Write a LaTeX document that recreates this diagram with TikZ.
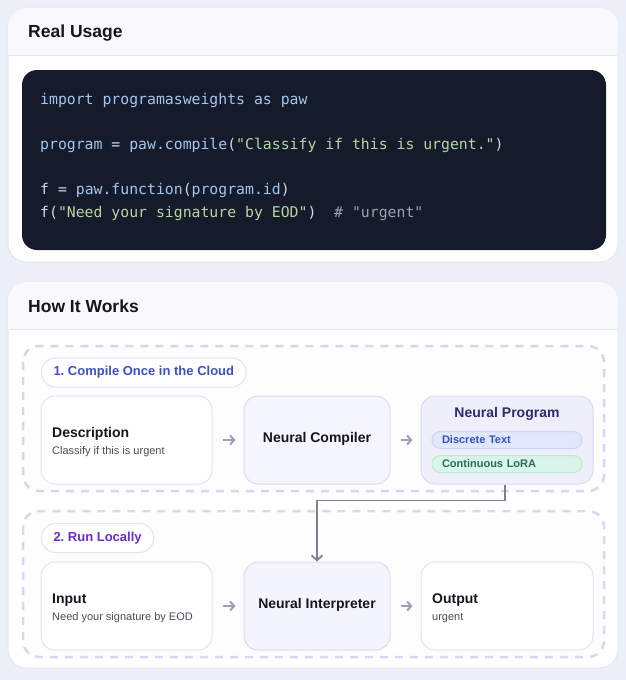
\documentclass[tikz,border=0pt]{standalone}
\usepackage{fontspec}
\setmainfont{Liberation Sans}
\setsansfont{Liberation Sans}
\setmonofont{DejaVu Sans Mono}
\usetikzlibrary{arrows.meta,calc}
\frenchspacing
\definecolor{pagebg}{HTML}{EEF0F9}
\definecolor{cardbd}{HTML}{E3E5F3}
\definecolor{headbg}{HTML}{F8F8FD}
\definecolor{codebg}{HTML}{161B2B}
\definecolor{cblue}{HTML}{A3C6EE}
\definecolor{cpunc}{HTML}{D4DAE4}
\definecolor{cstr}{HTML}{B6D6A2}
\definecolor{ccom}{HTML}{9AA2B2}
\definecolor{dashA}{HTML}{D3D7F0}
\definecolor{dashB}{HTML}{DCD6F1}
\definecolor{boxbd}{HTML}{E2E2F4}
\definecolor{lav}{HTML}{EFEFFC}
\definecolor{lavbd}{HTML}{D9D9F3}
\definecolor{titlec}{HTML}{15161C}
\definecolor{subc}{HTML}{4A4D58}
\definecolor{stepblue}{HTML}{3B52C4}
\definecolor{steppurple}{HTML}{6A2DC8}
\definecolor{progc}{HTML}{2B2B70}
\definecolor{dtfill}{HTML}{E1E8FB}
\definecolor{dtbd}{HTML}{C9D5F5}
\definecolor{dttext}{HTML}{3550C0}
\definecolor{lrfill}{HTML}{D8F5EA}
\definecolor{lrbd}{HTML}{BDE8D5}
\definecolor{lrtext}{HTML}{2E6A4E}
\definecolor{arrc}{HTML}{9CA1B0}
\definecolor{connc}{HTML}{7C8191}
\tikzset{
  card/.style={draw=cardbd, line width=1pt, fill=white, rounded corners=18pt},
  dashbox/.style={draw=#1, line width=2.5pt, dash pattern=on 8pt off 7pt, rounded corners=16pt, fill=white!60!pagebg!30},
  stepbox/.style={draw=boxbd, line width=1pt, fill=white, rounded corners=14pt, minimum width=#1, minimum height=88pt, inner sep=0pt},
  lavbox/.style={draw=lavbd, line width=1pt, fill=lav, rounded corners=14pt, minimum width=#1, minimum height=88pt, inner sep=0pt},
  pill/.style={draw=boxbd, line width=1pt, fill=white, rounded corners=14pt, minimum height=29pt, inner xsep=12pt, font=\bfseries\fontsize{13}{15}\selectfont},
  subpill/.style={draw=#1, line width=1pt, rounded corners=8.5pt, minimum width=150pt, minimum height=17pt, inner xsep=10pt, font=\bfseries\fontsize{11}{13}\selectfont, text width=130pt, align=left},
  ttl/.style={font=\bfseries\fontsize{14}{16}\selectfont, text=titlec, inner sep=0pt},
  sub/.style={font=\fontsize{11}{13}\selectfont, text=subc, inner sep=0pt},
  hdr/.style={font=\bfseries\fontsize{17.5}{20}\selectfont, text=titlec, inner sep=0pt, anchor=west},
  code/.style={font=\ttfamily\fontsize{14.8}{17}\selectfont, inner sep=0pt, anchor=base west},
  arr/.style={draw=arrc, line width=2pt, -{Straight Barb[length=4pt,width=9pt]}, shorten <=10pt, shorten >=8pt},
  conn/.style={draw=connc, line width=1.8pt, -{Straight Barb[length=5pt,width=11pt]}},
}
\begin{document}
\begin{tikzpicture}[x=1pt,y=-1pt]
\fill[pagebg] (0,0) rectangle (626,680);
\useasboundingbox (0,0) rectangle (626,680);
% ---------- card 1
\draw[card] (8,8) rectangle (618,262);
\begin{scope}
\clip[rounded corners=18pt] (8,8) rectangle (618,262);
\fill[headbg] (8,8) rectangle (618,55);
\end{scope}
\draw[cardbd, line width=0.8pt] (9,55.5) -- (617,55.5);
\node[hdr] (h1) at (28,33) {Real Usage};
\node[fill=codebg, rounded corners=15pt, minimum width=584pt, minimum height=180pt, inner sep=0pt] (codebox) at (314,160) {};
\node[code] (c1) at (40,104) {\textcolor{cblue}{import programasweights as paw}};
\node[code] (c2) at (40,149) {\textcolor{cblue}{program}\textcolor{cpunc}{\ =\ }\textcolor{cblue}{paw.compile}\textcolor{cpunc}{(}\textcolor{cstr}{"Classify if this is urgent."}\textcolor{cpunc}{)}};
\node[code] (c3) at (40,194) {\textcolor{cpunc}{f = }\textcolor{cblue}{paw.function}\textcolor{cpunc}{(}\textcolor{cblue}{program.id}\textcolor{cpunc}{)}};
\node[code] (c4) at (40,217) {\textcolor{cpunc}{f(}\textcolor{cstr}{"Need your signature by EOD"}\textcolor{cpunc}{)}\textcolor{ccom}{~~\# "urgent"}};
% ---------- card 2
\draw[card] (8,282) rectangle (618,668);
\begin{scope}
\clip[rounded corners=18pt] (8,282) rectangle (618,668);
\fill[headbg] (8,282) rectangle (618,329);
\end{scope}
\draw[cardbd, line width=0.8pt] (9,329.5) -- (617,329.5);
\node[hdr] (h2) at (28,306) {How It Works};
% stage 1
\draw[dashbox=dashA] (23,346) rectangle (604,491);
\node[pill, text=stepblue, anchor=west] (p1) at (41,372.5) {1. Compile Once in the Cloud};
\node[stepbox=171pt] (desc) at (126.5,440) {};
\node[ttl, anchor=base west] (desct) at (52,437) {Description};
\node[sub, anchor=base west] (descs) at (52,454) {Classify if this is urgent};
\node[lavbox=146pt, fill=lav!60] (comp) at (317,440) {};
\node[ttl] (compt) at (317,439) {Neural Compiler};
\node[lavbox=172pt] (prog) at (507,440) {};
\node[ttl, text=progc] (progt) at (507,414) {Neural Program};
\node[subpill=dtbd, fill=dtfill, text=dttext] (dt) at (507,440) {Discrete Text};
\node[subpill=lrbd, fill=lrfill, text=lrtext] (lr) at (507,464) {Continuous LoRA};
\draw[arr] (desc) -- (comp);
\draw[arr] (comp) -- (prog);
% stage 2
\draw[dashbox=dashB] (23,511) rectangle (604,657);
\node[pill, text=steppurple, anchor=west] (p2) at (41,538) {2. Run Locally};
\node[stepbox=171pt] (inp) at (126.5,606) {};
\node[ttl, anchor=base west] (inpt) at (52,603) {Input};
\node[sub, anchor=base west] (inps) at (52,620) {Need your signature by EOD};
\node[lavbox=146pt, fill=lav!70] (interp) at (317,606) {};
\node[ttl] (interpt) at (317,605) {Neural Interpreter};
\node[stepbox=172pt] (outb) at (507,606) {};
\node[ttl, anchor=base west] (outt) at (432,603) {Output};
\node[sub, anchor=base west] (outs) at (432,620) {urgent};
\draw[arr] (inp) -- (interp);
\draw[arr] (interp) -- (outb);
% connector
\draw[conn] (prog.south) ++(-2,0) coordinate (ps) -- ++(0,16) -| (interp.north);
\end{tikzpicture}
\end{document}
